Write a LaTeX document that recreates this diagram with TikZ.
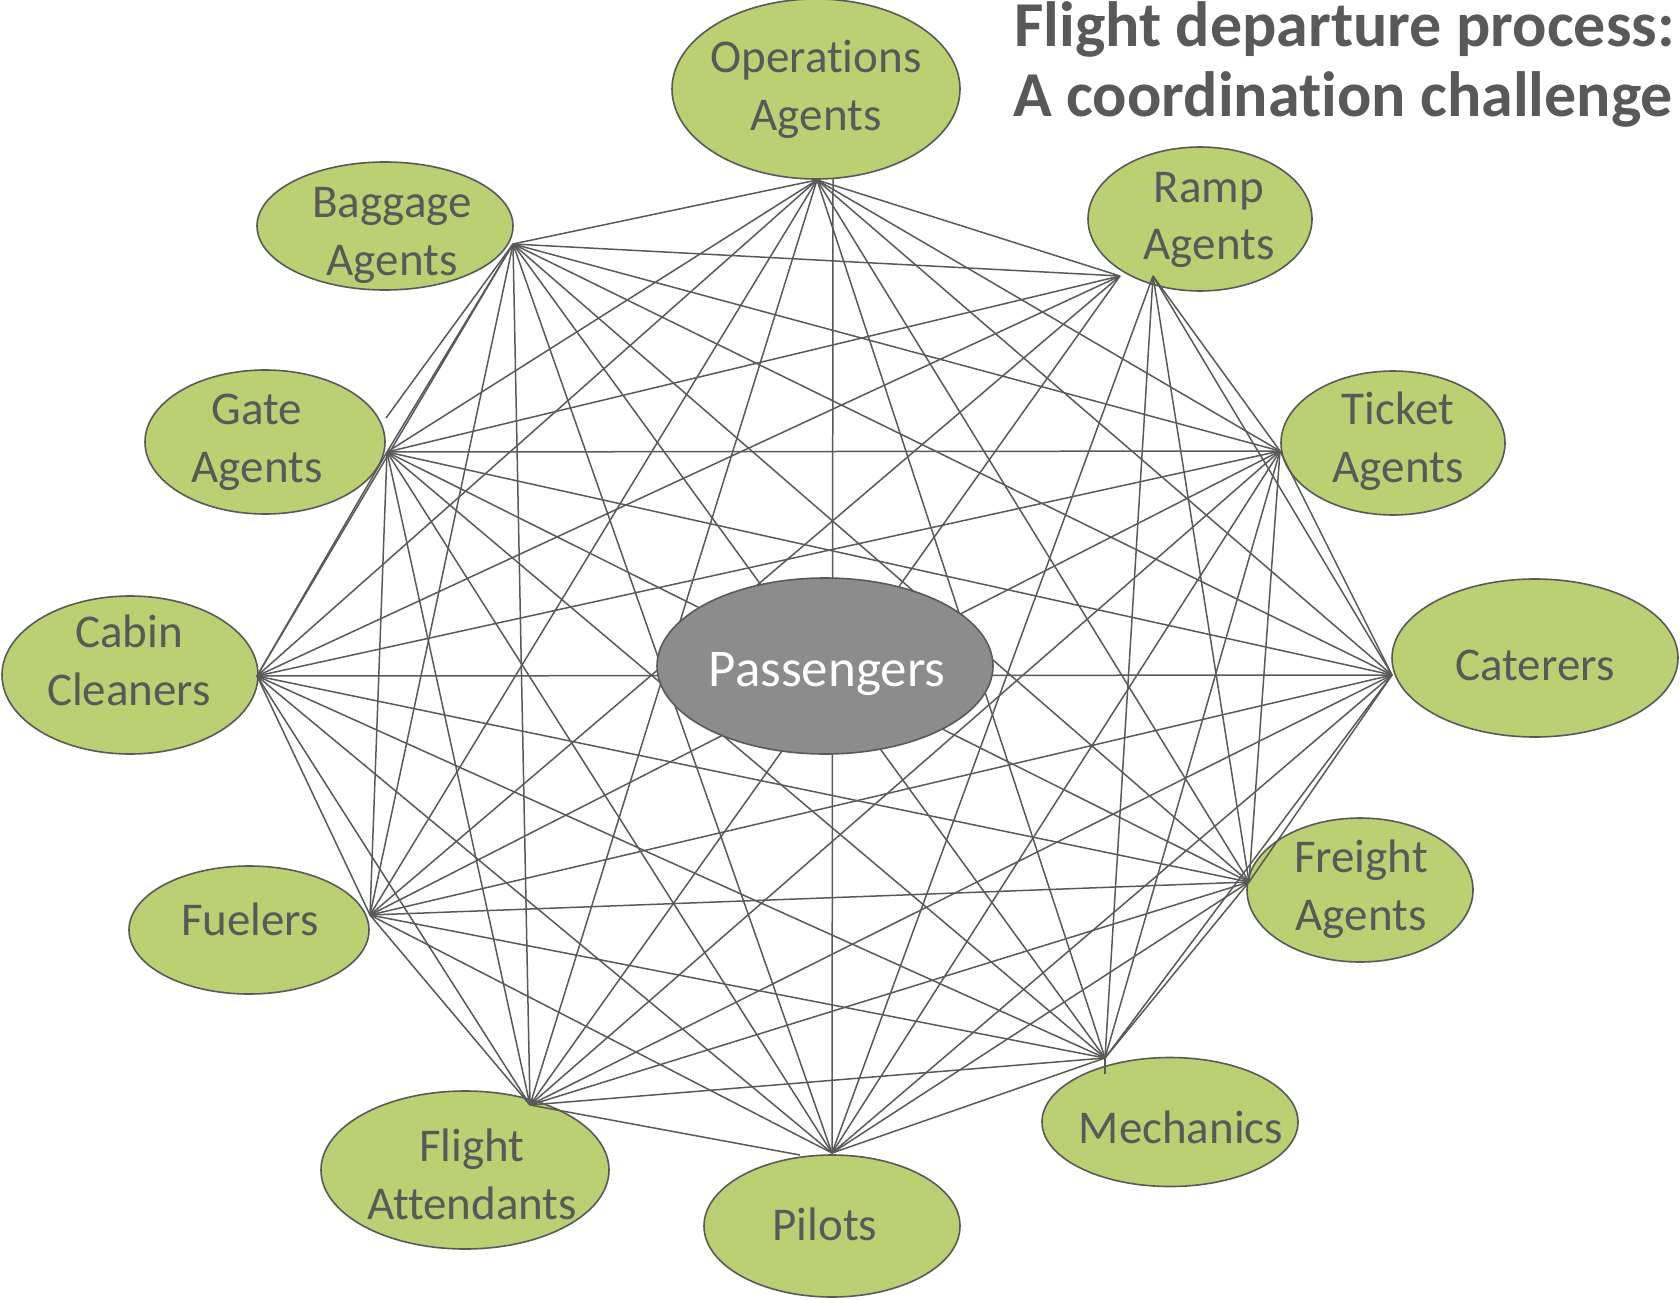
\documentclass[tikz,border=0pt]{standalone}
\usepackage{fontspec}
\setmainfont{Carlito}[Ligatures=NoCommon]
\usetikzlibrary{shapes.geometric}
\definecolor{ink}{RGB}{89,89,89}
\definecolor{leaf}{RGB}{187,207,115}
\definecolor{hubgray}{RGB}{140,140,140}
\newcommand{\twolines}[2]{\begin{tabular}[t]{@{}c@{}}#1\\#2\end{tabular}}
\begin{document}
\begin{tikzpicture}[x=1pt,y=-1pt,
  role/.style={ellipse,draw=ink,line width=1.6pt,fill=leaf,inner sep=0pt},
  rolename/.style={anchor=base,inner sep=0pt,text=ink,
    font=\fontsize{47}{58}\selectfont},
  link/.style={draw=ink,line width=1.5pt},
  heading/.style={anchor=base west,inner sep=0pt,text=ink,
    font=\fontsize{64}{78}\selectfont\bfseries}]
\useasboundingbox (0,0) rectangle (1680,1300);

% outer roles
\node[role,minimum width=288,minimum height=180] (ops) at (816,89) {};
\node[role,minimum width=256,minimum height=128] (bag) at (385,226) {};
\node[role,minimum width=224,minimum height=144] (ramp) at (1200,219) {};
\node[role,minimum width=240,minimum height=144] (gate) at (265,442) {};
\node[role,minimum width=224,minimum height=144] (ticket) at (1393,443) {};
\node[role,minimum width=256,minimum height=158] (cabin) at (130,675) {};
\node[role,minimum width=286,minimum height=158] (cater) at (1535,658) {};
\node[role,minimum width=240,minimum height=128] (fuel) at (249,930) {};
\node[role,minimum width=226,minimum height=144] (freight) at (1360,890) {};
\node[role,minimum width=288,minimum height=158] (fa) at (465,1170) {};
\node[role,minimum width=256,minimum height=142] (pilot) at (832,1226) {};
\node[role,minimum width=256,minimum height=129] (mech) at (1170,1122) {};

% role names
\node[rolename] (opsname) at (816,73) {\twolines{Operations}{Agents}};
\node[rolename] (bagname) at (392,218) {\twolines{Baggage}{Agents}};
\node[rolename] (rampname) at (1209,202) {\twolines{Ramp}{Agents}};
\node[rolename] (gatename) at (257,424) {\twolines{Gate}{Agents}};
\node[rolename] (ticketname) at (1398,424) {\twolines{Ticket}{Agents}};
\node[rolename] (cabinname) at (129,647) {\twolines{Cabin}{Cleaners}};
\node[rolename] (catername) at (1535,680) {Caterers};
\node[rolename] (fuelname) at (250,935) {Fuelers};
\node[rolename] (freightname) at (1361,872) {\twolines{Freight}{Agents}};
\node[rolename] (faname) at (472,1161) {\twolines{Flight}{Attendants}};
\node[rolename] (pilotname) at (825,1240) {Pilots};
\node[rolename] (mechname) at (1181,1143) {Mechanics};

% connection points on each role
\coordinate (hops) at (817,180);
\coordinate (hopsV) at (833,179);
\coordinate (hbag) at (513,244);
\coordinate (hrampL) at (1120,276);
\coordinate (hrampR) at (1153,276);
\coordinate (hgate) at (387,452);
\coordinate (hgateTop) at (386,418);
\coordinate (hticket) at (1280,451);
\coordinate (hcabin) at (257,676);
\coordinate (hcater) at (1392,675);
\coordinate (hfuel) at (370,915);
\coordinate (hfreight) at (1249,882);
\coordinate (hfa) at (530,1105);
\coordinate (hpilot) at (832,1153);
\coordinate (hpilotL) at (800,1155);
\coordinate (hmech) at (1105,1058);
\coordinate (hmechLow) at (1105,1074);

% every pair of roles is linked
\foreach \u/\v in {
  ops/rampL, ops/ticket, ops/cater, ops/freight, ops/mech, ops/fa, ops/fuel,
  ops/cabin, ops/gate, ops/bag,
  rampR/ticket, rampR/cater, rampR/freight, rampR/mech, rampR/pilot,
  rampL/fa, rampL/fuel, rampL/cabin, rampL/gate, rampL/bag,
  ticket/cater, ticket/freight, ticket/mech, ticket/pilot, ticket/fa,
  ticket/fuel, ticket/cabin, ticket/gate, ticket/bag,
  cater/freight, cater/mech, cater/pilot, cater/fa, cater/fuel, cater/cabin,
  cater/gate, cater/bag,
  freight/mech, freight/pilot, freight/fa, freight/fuel, freight/cabin,
  freight/gate, freight/bag,
  mech/pilot, mech/fa, mech/fuel, mech/cabin, mech/gate, mech/bag,
  pilot/fuel, pilot/cabin, pilot/gate, pilot/bag,
  fa/fuel, fa/cabin, fa/gate, fa/bag,
  fuel/cabin, fuel/gate, fuel/bag,
  cabin/gate, cabin/bag,
  gate/bag}
  \draw[link] (h\u) -- (h\v);
\draw[link] (hopsV) -- (hpilot);
\draw[link] (hfa) -- (hpilotL);
\draw[link] (hbag) -- (hgateTop);
\draw[link] (hmech) -- (hmechLow);

% centre
\node[ellipse,draw=ink,line width=1.6pt,fill=hubgray,inner sep=0pt,
  minimum width=336,minimum height=176] (pass) at (825,666) {};
\node[anchor=base,inner sep=0pt,text=white,
  font=\fontsize{53}{64}\selectfont] (passname) at (827,686) {Passengers};

% heading
\node[heading] (title1) at (1014,47) {Flight departure process:};
\node[heading] (title2) at (1013,117) {A coordination challenge};
\end{tikzpicture}
\end{document}
